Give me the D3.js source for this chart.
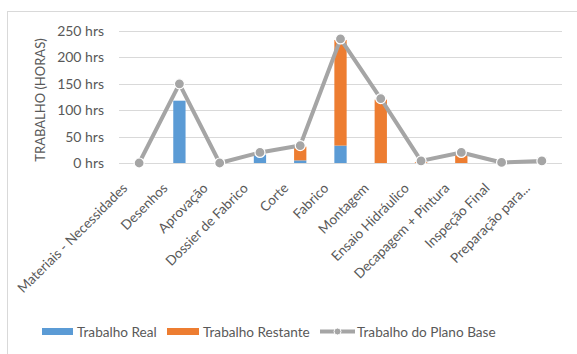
<!DOCTYPE html>
<html>
<head>
<meta charset="utf-8">
<script src="https://cdn.jsdelivr.net/npm/d3@7"></script>
<style>
  html, body { margin: 0; padding: 0; background: #fff; }
  svg { display: block; font-family: Lato, "Liberation Sans", sans-serif; }
</style>
</head>
<body>
<svg id="chart" width="577" height="354"></svg>
<script>
// Work per task (hours)
const categories = [
  "Materiais - Necessidades", "Desenhos", "Aprovação", "Dossier de Fabrico",
  "Corte", "Fabrico", "Montagem", "Ensaio Hidráulico", "Decapagem + Pintura",
  "Inspeção Final", "Preparação para..."
];
const trabalhoReal     = [0, 118, 0, 16, 5, 33, 0, 0, 0, 0, 0];
const trabalhoRestante = [0, 0, 0, 0, 26, 200, 120, 2, 15, 0, 0];
const trabalhoPlano    = [0, 150, 0, 20, 33, 235, 122, 4, 20, 1, 4];
const yTicks = [0, 50, 100, 150, 200, 250];
const seriesNames = ["Trabalho Real", "Trabalho Restante", "Trabalho do Plano Base"];

const colors = { real: "#5B9BD5", rest: "#ED7D31", plan: "#A5A5A5" };
const textColor = "#595959";

const svg = d3.select("#chart");
const W = 577, H = 354;

// chart area frame
svg.append("rect")
  .attr("x", 7.5).attr("y", 11.5)
  .attr("width", W + 10).attr("height", H + 10)
  .attr("fill", "none").attr("stroke", "#D9D9D9").attr("stroke-width", 1);

const x = d3.scaleBand().domain(categories).range([119, 562]).padding(0);
const y = d3.scaleLinear().domain([0, 250]).range([163, 31]);

// gridlines
svg.append("g").selectAll("line").data(yTicks).join("line")
  .attr("x1", 119).attr("x2", 562)
  .attr("y1", d => Math.round(y(d)) + 0.5).attr("y2", d => Math.round(y(d)) + 0.5)
  .attr("stroke", "#D9D9D9").attr("stroke-width", 1);

// y axis labels
const yAxis = d3.axisLeft(y).tickValues(yTicks).tickSize(0).tickPadding(0)
  .tickFormat(d => d + " hrs");
const gy = svg.append("g").attr("transform", "translate(104,0)").call(yAxis);
gy.select(".domain").remove();
gy.selectAll("text").attr("fill", textColor).style("font-size", "14px")
  .style("font-family", "Lato, sans-serif");

// y axis title
svg.append("text")
  .attr("transform", "translate(45,100) rotate(-90)")
  .attr("text-anchor", "middle")
  .attr("fill", textColor).style("font-size", "13px")
  .text("TRABALHO (HORAS)");

// x axis labels (rotated)
const xAxis = d3.axisBottom(x).tickSize(0).tickPadding(0);
const gx = svg.append("g").attr("transform", "translate(0,163)").call(xAxis);
gx.select(".domain").remove();
gx.selectAll(".tick text")
  .attr("text-anchor", "end")
  .attr("dy", 0).attr("y", 0)
  .attr("transform", "translate(-11,26) rotate(-45)")
  .attr("fill", textColor).style("font-size", "13.6px")
  .style("font-family", "Lato, sans-serif");

// stacked bars
const barW = x.bandwidth() * 0.305;
const bx = d => x(d) + x.bandwidth() / 2 - barW / 2;
const bars = svg.append("g");
bars.selectAll("rect.real").data(categories).join("rect").attr("class", "real")
  .attr("x", bx).attr("width", barW)
  .attr("y", (d, i) => y(trabalhoReal[i]))
  .attr("height", (d, i) => y(0) - y(trabalhoReal[i]))
  .attr("fill", colors.real);
bars.selectAll("rect.rest").data(categories).join("rect").attr("class", "rest")
  .attr("x", bx).attr("width", barW)
  .attr("y", (d, i) => y(trabalhoReal[i] + trabalhoRestante[i]))
  .attr("height", (d, i) => y(trabalhoReal[i]) - y(trabalhoReal[i] + trabalhoRestante[i]))
  .attr("fill", colors.rest);

// baseline plan line
const cx = d => x(d) + x.bandwidth() / 2;
const line = d3.line().x((d, i) => cx(categories[i])).y(d => y(d));
svg.append("path").datum(trabalhoPlano)
  .attr("d", line).attr("fill", "none")
  .attr("stroke", colors.plan).attr("stroke-width", 4).attr("stroke-linejoin", "round");
svg.append("g").selectAll("circle").data(trabalhoPlano).join("circle")
  .attr("cx", (d, i) => cx(categories[i])).attr("cy", d => y(d))
  .attr("r", 5).attr("fill", colors.plan)
  .attr("stroke", "#fff").attr("stroke-width", 1.2);

// legend
const lg = svg.append("g").style("font-size", "13.6px").attr("fill", textColor);
lg.append("rect").attr("x", 42).attr("y", 328).attr("width", 31).attr("height", 7).attr("fill", colors.real);
lg.append("text").attr("x", 77).attr("y", 336.5).attr("fill", textColor).text(seriesNames[0]);
lg.append("rect").attr("x", 167).attr("y", 328).attr("width", 32).attr("height", 7).attr("fill", colors.rest);
lg.append("text").attr("x", 203).attr("y", 336.5).attr("fill", textColor).text(seriesNames[1]);
lg.append("line").attr("x1", 320).attr("x2", 355).attr("y1", 331.5).attr("y2", 331.5)
  .attr("stroke", colors.plan).attr("stroke-width", 4);
lg.append("circle").attr("cx", 337.5).attr("cy", 331.5).attr("r", 3.5)
  .attr("fill", colors.plan).attr("stroke", "#fff").attr("stroke-width", 1);
lg.append("text").attr("x", 357).attr("y", 336.5).attr("fill", textColor).text(seriesNames[2]);
</script>
</body>
</html>
